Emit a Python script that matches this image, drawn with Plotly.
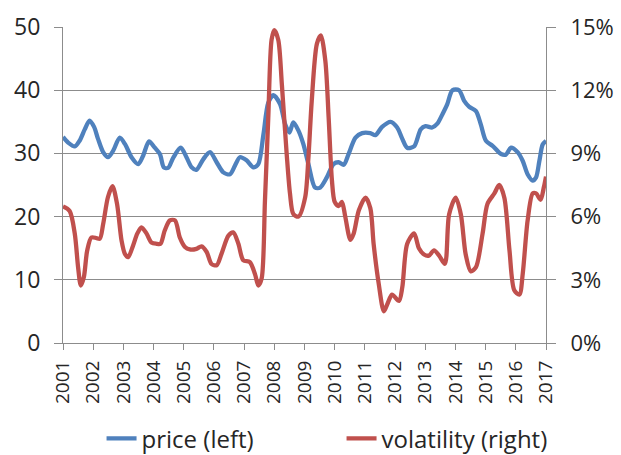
import plotly.graph_objects as go

# price (left axis)
price_t = [2001.00, 2001.17, 2001.39, 2001.55, 2001.72, 2001.88, 2002.03, 2002.16, 2002.33, 2002.49,
           2002.66, 2002.88, 2003.05, 2003.27, 2003.49, 2003.65, 2003.85, 2004.04, 2004.21, 2004.34,
           2004.48, 2004.65, 2004.90, 2005.09, 2005.26, 2005.42, 2005.65, 2005.87, 2006.09, 2006.31,
           2006.53, 2006.70, 2006.86, 2007.08, 2007.31, 2007.47, 2007.64, 2007.80, 2007.97, 2008.19,
           2008.36, 2008.50, 2008.63, 2008.80, 2008.96, 2009.13, 2009.35, 2009.52, 2009.74, 2009.96,
           2010.13, 2010.30, 2010.46, 2010.69, 2010.91, 2011.18, 2011.35, 2011.57, 2011.85, 2012.07,
           2012.24, 2012.40, 2012.63, 2012.85, 2013.01, 2013.23, 2013.40, 2013.57, 2013.73, 2013.90,
           2014.12, 2014.29, 2014.45, 2014.68, 2014.84, 2015.01, 2015.23, 2015.51, 2015.67, 2015.84,
           2016.06, 2016.23, 2016.39, 2016.56, 2016.67, 2016.78, 2016.89, 2017.00]
price = [32.6, 31.7, 31.1, 32.0, 33.8, 35.2, 34.2, 32.3, 30.2, 29.4,
         30.4, 32.5, 31.5, 29.4, 28.3, 29.6, 31.9, 30.9, 29.9, 27.8,
         27.7, 29.3, 30.9, 29.4, 27.8, 27.4, 29.1, 30.2, 28.6, 27.0,
         26.7, 28.1, 29.4, 28.9, 27.8, 28.3, 33.0, 38.0, 39.2, 37.8,
         34.6, 33.3, 34.9, 33.6, 31.5, 28.3, 24.6, 24.6, 26.2, 28.3,
         28.6, 28.2, 29.9, 32.5, 33.2, 33.2, 32.9, 34.2, 35.0, 34.1,
         32.3, 30.9, 31.1, 33.8, 34.3, 34.1, 34.7, 36.2, 37.8, 40.0,
         40.0, 38.3, 37.4, 36.7, 34.6, 32.0, 31.2, 29.9, 29.8, 30.9,
         30.2, 28.8, 26.7, 25.7, 26.2, 28.8, 31.4, 32.0]

# volatility in % (right axis)
vol_t = [2001.00, 2001.22, 2001.39, 2001.50, 2001.59, 2001.69, 2001.80, 2001.94, 2002.11, 2002.22,
         2002.33, 2002.49, 2002.64, 2002.79, 2002.94, 2003.05, 2003.16, 2003.32, 2003.46, 2003.60,
         2003.77, 2003.93, 2004.10, 2004.23, 2004.37, 2004.54, 2004.71, 2004.87, 2005.04, 2005.20,
         2005.42, 2005.59, 2005.76, 2005.92, 2006.09, 2006.25, 2006.48, 2006.64, 2006.81, 2006.97,
         2007.19, 2007.36, 2007.47, 2007.58, 2007.69, 2007.80, 2007.91, 2008.00, 2008.13, 2008.25,
         2008.41, 2008.52, 2008.63, 2008.80, 2009.02, 2009.13, 2009.24, 2009.41, 2009.54, 2009.69,
         2009.80, 2009.91, 2010.00, 2010.13, 2010.24, 2010.35, 2010.52, 2010.63, 2010.80, 2011.02,
         2011.18, 2011.29, 2011.46, 2011.63, 2011.76, 2011.90, 2012.13, 2012.24, 2012.40, 2012.63,
         2012.79, 2012.96, 2013.12, 2013.29, 2013.46, 2013.65, 2013.79, 2014.01, 2014.18, 2014.34,
         2014.51, 2014.68, 2014.90, 2015.06, 2015.29, 2015.45, 2015.62, 2015.79, 2015.95, 2016.12,
         2016.23, 2016.39, 2016.56, 2016.67, 2016.82, 2016.93, 2017.00]
vol = [6.48, 6.27, 5.19, 3.6, 2.73, 3.12, 4.38, 5.01, 4.98, 4.95,
       5.64, 6.93, 7.44, 6.6, 4.86, 4.23, 4.08, 4.62, 5.19, 5.49,
       5.19, 4.77, 4.71, 4.71, 5.34, 5.82, 5.82, 5.01, 4.56, 4.44,
       4.47, 4.59, 4.32, 3.75, 3.69, 4.23, 5.1, 5.25, 4.71, 3.93,
       3.84, 3.27, 2.73, 3.06, 6.75, 10.71, 14.4, 14.85, 14.4, 12.27,
       8.97, 7.08, 6.12, 6.0, 6.9, 8.8, 11.5, 14.2, 14.6, 13.4,
       10.7, 7.7, 6.7, 6.5, 6.7, 6.0, 4.9, 5.2, 6.3, 6.9,
       6.4, 4.7, 2.8, 1.5, 1.9, 2.3, 2.0, 2.65, 4.7, 5.2,
       4.5, 4.2, 4.15, 4.4, 4.15, 3.76, 6.1, 6.9, 6.1, 4.2,
       3.4, 3.6, 5.2, 6.6, 7.1, 7.5, 6.9, 4.4, 2.5, 2.3,
       3.3, 5.8, 7.1, 7.1, 6.8, 7.4, 7.9]

years = list(range(2001, 2018))
left_ticks = [0, 10, 20, 30, 40, 50]
right_ticks = [0, 3, 6, 9, 12, 15]

FONT = "Open Sans"
GRID = "#8c8c8c"
TXT = "#262626"

fig = go.Figure()
fig.add_trace(go.Scatter(x=price_t, y=price, name="price (left)", mode="lines",
                         line=dict(color="#4F81BD", width=4.3, shape="spline", smoothing=0.8)))
fig.add_trace(go.Scatter(x=vol_t, y=vol, name="volatility (right)", mode="lines", yaxis="y2",
                         line=dict(color="#C0504D", width=4.3, shape="spline", smoothing=0.8)))

fig.update_layout(
    width=621, height=455,
    paper_bgcolor="white", plot_bgcolor="white",
    margin=dict(l=63, r=75, t=27, b=112, autoexpand=False),
    font=dict(family=FONT, color=TXT),
    showlegend=True,
    legend=dict(orientation="h", xref="container", yref="container", x=0.55, y=0.085,
                xanchor="center", yanchor="top", font=dict(size=24, color=TXT),
                entrywidth=195, itemwidth=30, bgcolor="rgba(0,0,0,0)"),
    xaxis=dict(range=[2001, 2017], tickvals=years, ticktext=[str(y) for y in years],
               tickangle=-90, tickfont=dict(size=19), showgrid=False, zeroline=False,
               showline=True, linecolor=GRID, linewidth=1, automargin=False,
               ticks="outside", ticklen=6, tickcolor=GRID, ticklabelstandoff=3),
    yaxis=dict(range=[0, 50], tickvals=left_ticks, tickfont=dict(size=23),
               showgrid=True, gridcolor=GRID, gridwidth=1, zeroline=False, automargin=False,
               showline=True, linecolor=GRID, linewidth=1,
               ticks="outside", ticklen=8, tickcolor=GRID, ticklabelstandoff=9),
    yaxis2=dict(range=[0, 15], tickvals=right_ticks, ticktext=[f"{v}%" for v in right_ticks],
                tickfont=dict(size=22), automargin=False,
                overlaying="y", side="right", showgrid=False, zeroline=False,
                showline=True, linecolor=GRID, linewidth=1,
                ticks="outside", ticklen=9, tickcolor=GRID, ticklabelstandoff=10),
)

fig.write_html("out.html", config={"displayModeBar": False},
               post_script="document.body.style.margin='0';")
